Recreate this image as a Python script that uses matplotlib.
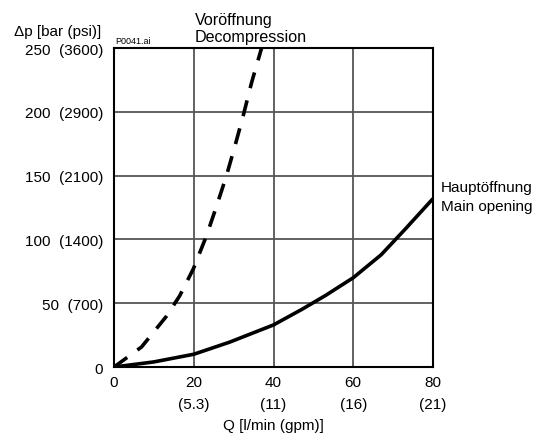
import numpy as np
import matplotlib.pyplot as plt

plt.rcParams['font.family'] = ['Liberation Sans', 'DejaVu Sans']

# Hauptoeffnung / main opening (solid)
q_main = [0, 10, 20, 29, 40, 47, 53, 60, 67, 73, 80]
dp_main = [0, 4, 10, 19.5, 33, 45, 56, 70, 88, 108, 132]

# Voroeffnung / decompression (dashed)
q_pre = [0, 6.9, 13.2, 16.5, 19.9, 23.2, 25.7, 28.2, 30.3, 32.4, 34.5, 37]
dp_pre = [0, 15.7, 40, 56, 77, 103, 126, 150, 173, 197, 223, 250]

x_ticks = [0, 20, 40, 60, 80]
x_gpm = ['', '(5.3)', '(11)', '(16)', '(21)']
y_ticks = [0, 50, 100, 150, 200, 250]
y_psi = ['', '(700)', '(1400)', '(2100)', '(2900)', '(3600)']

fontSize = 11

fig = plt.figure(figsize=(5.43, 4.35), dpi=100)
ax = fig.add_axes([0.21, 0.154, 0.5874, 0.733])

ax.plot(q_main, dp_main, color='black', linewidth=2.6, solid_capstyle='butt')
ax.plot(q_pre, dp_pre, color='black', linewidth=2.6, dashes=(4.5, 3.5))

ax.set_xlim(0, 80)
ax.set_ylim(0, 250)
ax.set_xticks(x_ticks)
ax.set_yticks(y_ticks)
ax.set_xticklabels([f'{x}\n{g}' if g else f'{x}' for x, g in zip(x_ticks, x_gpm)],
                   linespacing=1.7, va='top')
ax.set_yticklabels([f'{y}  {p}' if p else f'{y}' for y, p in zip(y_ticks, y_psi)])
ax.tick_params(length=0, labelsize=fontSize, pad=8)
ax.tick_params(axis='x', pad=6)
ax.grid(True, color='#555555', linewidth=1.3)
for s in ax.spines.values():
    s.set_linewidth(1.5)
    s.set_zorder(3)

ax.set_xlabel('Q [l/min (gpm)]', fontsize=fontSize, labelpad=5)

fig.text(0.026, 0.926, '\u0394p [bar (psi)]', fontsize=fontSize, va='center')
fig.text(0.212, 0.905, 'P0041.ai', fontsize=6.5, va='center')
fig.text(0.359, 0.934, 'Vor\u00f6ffnung\nDecompression', fontsize=11.6,
         va='center', linespacing=1.15)
fig.text(0.812, 0.546, 'Haupt\u00f6ffnung\nMain opening', fontsize=fontSize,
         va='center', linespacing=1.5)

fig.savefig('out.png', dpi=100)
